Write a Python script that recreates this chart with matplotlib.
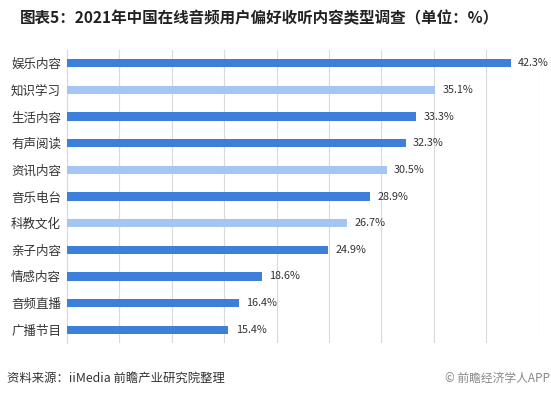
import matplotlib.pyplot as plt
import numpy as np

plt.rcParams['font.family'] = ['Noto Sans CJK SC', 'DejaVu Sans']

categories = ['娱乐内容', '知识学习', '生活内容', '有声阅读', '资讯内容', '音乐电台',
              '科教文化', '亲子内容', '情感内容', '音频直播', '广播节目']
values = [42.3, 35.1, 33.3, 32.3, 30.5, 28.9, 26.7, 24.9, 18.6, 16.4, 15.4]
light = ['知识学习', '资讯内容', '科教文化']

dark_blue = '#3f7fdc'
light_blue = '#a3c6f2'

fig = plt.figure(figsize=(5.51, 3.99), dpi=100)
ax = fig.add_axes([0.121, 0.14, 0.857, 0.735])

y = np.arange(len(categories))
colors = [light_blue if c in light else dark_blue for c in categories]
ax.barh(y, values, height=0.32, color=colors, zorder=3)

for yi, v in zip(y, values):
    ax.text(v + 0.7, yi, '{:.1f}%'.format(v), va='center', ha='left',
            fontsize=7.8, color='#333333')

ax.set_yticks(y)
ax.set_yticklabels(categories, fontsize=9, color='#333333')
ax.set_ylim(len(categories) - 0.5, -0.5)
ax.set_xlim(0, 45)
ax.set_xticks(np.arange(0, 46, 5))
ax.tick_params(axis='x', length=0, labelbottom=False)
ax.tick_params(axis='y', length=0, pad=4)
ax.grid(axis='x', color='#d9d9d9', linewidth=0.8, zorder=0)
for s in ['top', 'right', 'bottom']:
    ax.spines[s].set_visible(False)
ax.spines['left'].set_color('#d9d9d9')

fig.text(0.036, 0.955, '图表5：2021年中国在线音频用户偏好收听内容类型调查（单位：%）',
         fontsize=11.2, fontweight='bold', color='#222222', va='center')
fig.text(0.012, 0.052, '资料来源：iiMedia 前瞻产业研究院整理', fontsize=8.9,
         color='#333333', va='center')
fig.text(0.998, 0.052, '© 前瞻经济学人APP', fontsize=8.5, color='#888888',
         va='center', ha='right')

fig.savefig('out.png', dpi=100)
